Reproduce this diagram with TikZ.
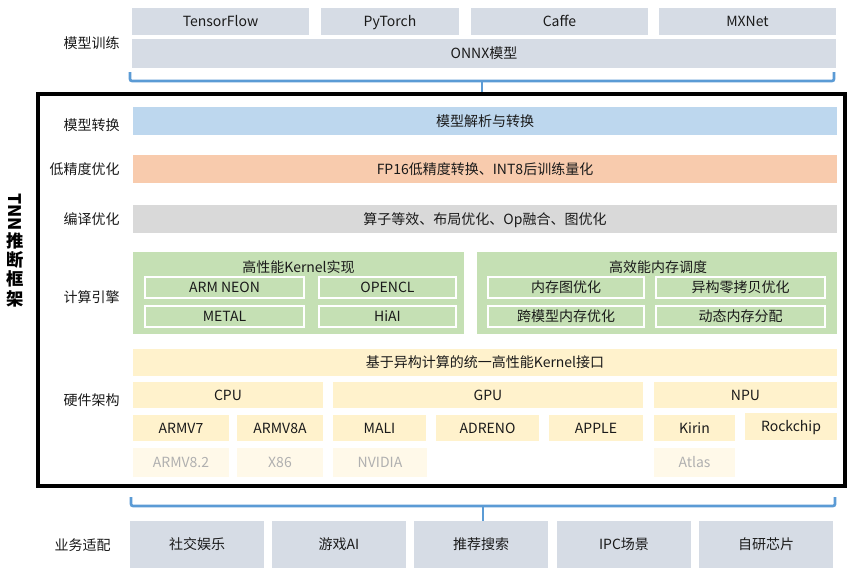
\documentclass[tikz,border=0pt]{standalone}
\usepackage{fontspec}
\setmainfont{Noto Sans CJK SC}
\definecolor{topgray}{HTML}{D6DCE5}
\definecolor{convblue}{HTML}{BDD7EE}
\definecolor{lporange}{HTML}{F8CBAD}
\definecolor{compgray}{HTML}{D9D9D9}
\definecolor{enggreen}{HTML}{C5E0B4}
\definecolor{hwyellow}{HTML}{FFF2CC}
\definecolor{hwfaded}{HTML}{FFF9E9}
\definecolor{fadedtext}{HTML}{B0B0B0}
\definecolor{brkblue}{HTML}{5B9BD5}
\definecolor{txt}{HTML}{1A1A1A}
\tikzset{
  bx/.style={inner sep=0pt, outer sep=0pt, draw=none, text=txt, anchor=center,
     text height=0.95em, text depth=0.15em},
  rect/.style n args={4}{minimum width={(#3-#1)*0.75pt}, minimum height={(#4-#2)*0.75pt},
     at={({(#1+#3)/2},{(#2+#4)/2})}},
  tbox/.style={bx, fill=topgray},
  hw/.style={bx, fill=hwyellow},
  hwf/.style={bx, fill=hwfaded, text=fadedtext},
  inbox/.style={bx, draw=white, line width=0.8pt},
  lbl/.style={anchor=east, inner sep=0pt, text=txt, text height=0.95em, text depth=0.15em},
  brk/.style={draw=brkblue, line width=2pt, rounded corners=1.5pt},
}
\begin{document}
\begin{tikzpicture}[x=0.75pt,y=-0.75pt, every node/.append style={font=\fontsize{10.5}{12}\selectfont}]
\useasboundingbox (0,0) rectangle (856,578);
\fill[white] (0,0) rectangle (856,578);

% ---- model training
\node[tbox, rect={132}{8}{309}{35}] (tf) {TensorFlow};
\node[tbox, rect={321}{8}{459}{35}] (pt) {PyTorch};
\node[tbox, rect={471}{8}{648}{35}] (caffe) {Caffe};
\node[tbox, rect={659}{8}{836}{35}] (mx) {MXNet};
\node[tbox, rect={132}{39}{836}{68}] (onnx) {ONNX模型};
\node[lbl] (l1) at (120,43) {模型训练};

% ---- frame
\node[draw=black, line width=3pt, inner sep=0pt, rect={38}{94}{845}{486}] (frame) {};
\node[inner sep=0pt, align=center, text=black, font=\fontsize{13}{14.5}\selectfont\bfseries] (tnn) at (15,250)
  {\rotatebox[origin=c]{-90}{TNN}\\推\\断\\框\\架};

% top bracket
\coordinate (tbl) at (130,72);
\coordinate (tbm) at (482,81);
\coordinate (tbr) at (834,72);
\draw[brk] (tbl) |- (tbm) -| (tbr);
\draw[brk, rounded corners=0pt] (tbm) -- (tbm |- frame.north);

% ---- conversion / low precision / compile
\node[bx, fill=convblue, rect={133}{107}{837}{135}] (conv) {模型解析与转换};
\node[lbl] (l2) at (120,125) {模型转换};
\node[bx, fill=lporange, rect={133}{155}{837}{183}] (lowp) {FP16低精度转换、INT8后训练量化};
\node[lbl] (l3) at (120,169) {低精度优化};
\node[bx, fill=compgray, rect={133}{205}{837}{233}] (comp) {算子等效、布局优化、Op融合、图优化};
\node[lbl] (l4) at (120,219) {编译优化};

% ---- compute engine
\node[bx, fill=enggreen, rect={133}{252}{464}{334}] (kern) {};
\node[bx, fill=enggreen, rect={477}{252}{837}{334}] (mem) {};
\node[bx] (kernt) at (298.5,267) {高性能Kernel实现};
\node[bx] (memt) at (658,267) {高效能内存调度};
\node[inbox, rect={145}{277}{304}{298}] (neon) {ARM NEON};
\node[inbox, rect={319}{277}{456}{298}] (opencl) {OPENCL};
\node[inbox, rect={145}{306}{304}{327}] (metal) {METAL};
\node[inbox, rect={319}{306}{456}{327}] (hiai) {HiAI};
\node[inbox, rect={488}{277}{644}{298}] (memg) {内存图优化};
\node[inbox, rect={656}{277}{825}{298}] (zcp) {异构零拷贝优化};
\node[inbox, rect={488}{306}{644}{327}] (xmod) {跨模型内存优化};
\node[inbox, rect={656}{306}{825}{327}] (dyn) {动态内存分配};
\node[lbl] (l5) at (120,297) {计算引擎};

% ---- hardware
\node[hw, rect={133}{349}{837}{376}] (kif) {基于异构计算的统一高性能Kernel接口};
\node[hw, rect={133}{382}{323}{408}] (cpu) {CPU};
\node[hw, rect={333}{382}{643}{408}] (gpu) {GPU};
\node[hw, rect={654}{382}{837}{408}] (npu) {NPU};
\node[hw, rect={133}{415}{229}{441}] (armv7) {ARMV7};
\node[hw, rect={237}{415}{323}{441}] (armv8a) {ARMV8A};
\node[hw, rect={333}{415}{426}{441}] (mali) {MALI};
\node[hw, rect={436}{415}{539}{441}] (adreno) {ADRENO};
\node[hw, rect={549}{415}{643}{441}] (apple) {APPLE};
\node[hw, rect={654}{415}{735}{441}] (kirin) {Kirin};
\node[hw, rect={745}{413}{837}{440}] (rock) {Rockchip};
\node[hwf, rect={133}{448}{229}{477}] (armv82) {ARMV8.2};
\node[hwf, rect={237}{448}{323}{477}] (x86) {X86};
\node[hwf, rect={333}{448}{427}{477}] (nvidia) {NVIDIA};
\node[hwf, rect={654}{448}{735}{477}] (atlas) {Atlas};
\node[lbl] (l6) at (120,400) {硬件架构};

% ---- business
\node[tbox, rect={130}{521}{264}{568}] (b1) {社交娱乐};
\node[tbox, rect={272}{521}{406}{568}] (b2) {游戏AI};
\node[tbox, rect={414}{521}{548}{568}] (b3) {推荐搜索};
\node[tbox, rect={557}{521}{691}{568}] (b4) {IPC场景};
\node[tbox, rect={699}{521}{833}{568}] (b5) {自研芯片};
\node[lbl] (l7) at (111,545) {业务适配};

% bottom bracket
\coordinate (bbl) at (131,497);
\coordinate (bbm) at (483,506);
\coordinate (bbr) at (835,497);
\draw[brk] (bbl) |- (bbm) -| (bbr);
\draw[brk, rounded corners=0pt] (bbm) -- (bbm |- b3.north);
\end{tikzpicture}
\end{document}
